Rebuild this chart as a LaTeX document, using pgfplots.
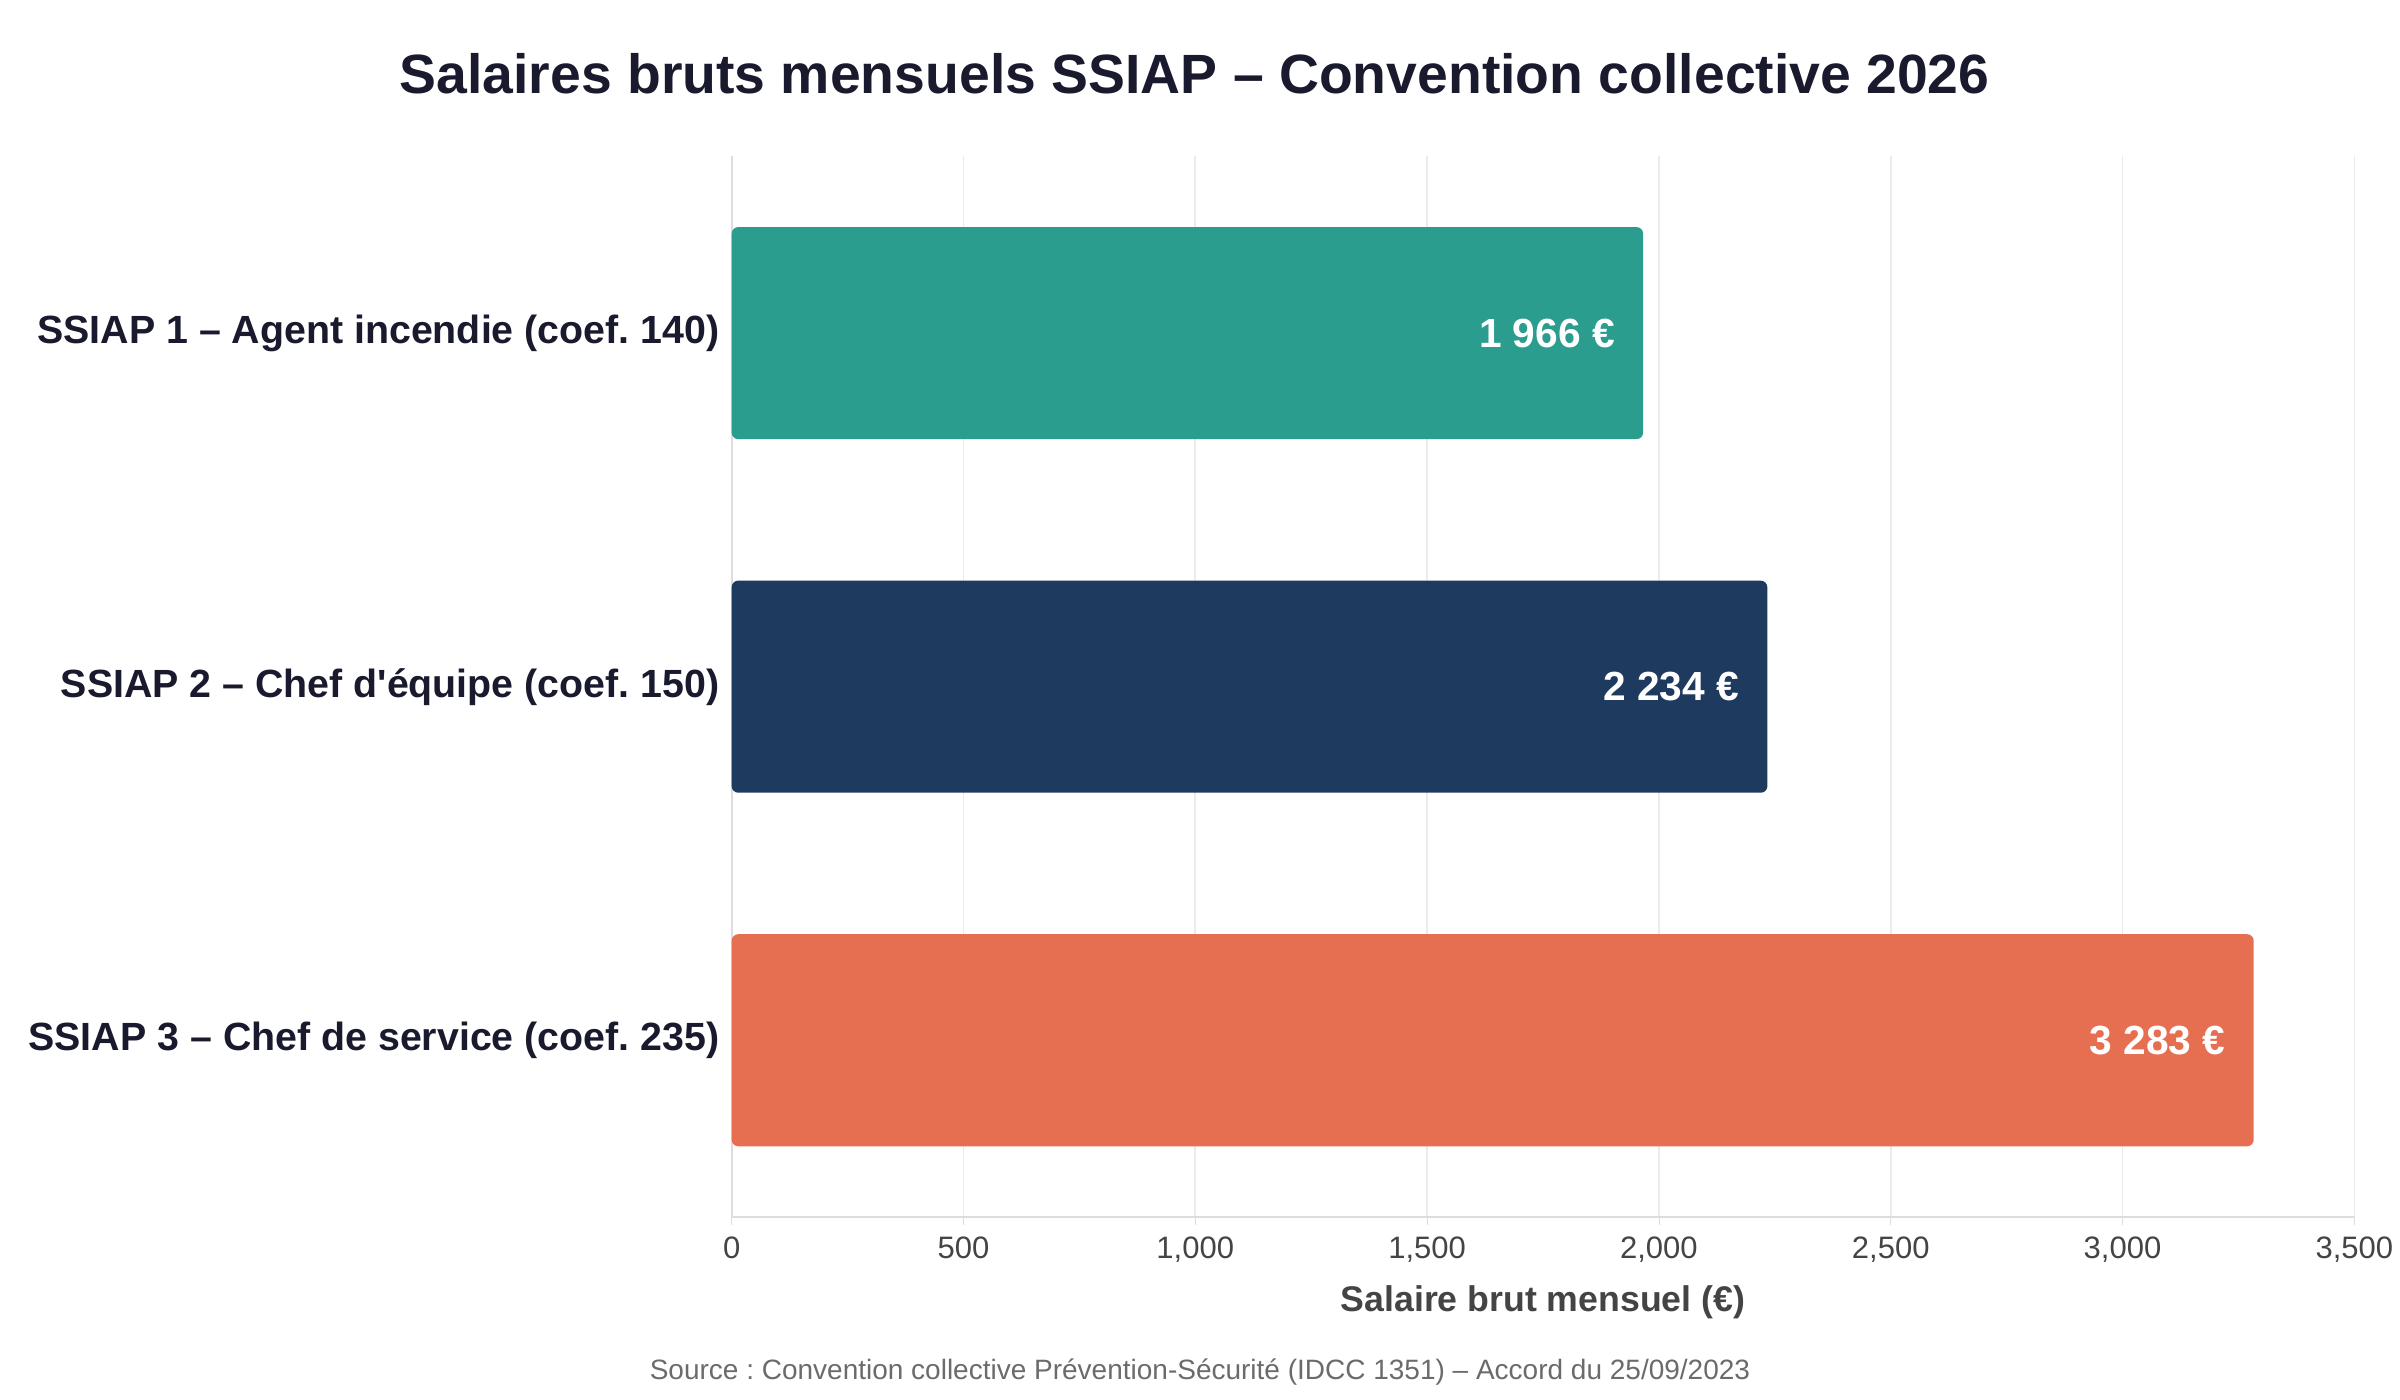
\documentclass[border=0pt]{standalone}
\usepackage{fontspec}
\setmainfont{Liberation Sans}
\usepackage{pgfplots}
\pgfplotsset{compat=1.18}
\frenchspacing

\definecolor{barTeal}{HTML}{2A9D8F}
\definecolor{barNavy}{HTML}{1F3A5F}
\definecolor{barCoral}{HTML}{E76F51}
\definecolor{titleInk}{HTML}{1A1A2E}
\definecolor{tickInk}{HTML}{444444}
\definecolor{srcInk}{HTML}{6B6B6B}
\definecolor{gridGray}{HTML}{EBEBEB}
\definecolor{axisGray}{HTML}{DDDDDD}

\begin{document}
\begin{tikzpicture}
\begin{axis}[
  scale only axis,
  width=486.8pt, height=318.2pt,
  xmin=0, xmax=3500, ymin=-0.5, ymax=2.5,
  enlargelimits=false,
  y dir=reverse,
  xbar, bar width=0.6, bar shift=0pt,
  axis lines*=left,
  axis line style={draw=axisGray, line width=0.6pt},
  xmajorgrids,
  grid style={draw=gridGray, line width=0.5pt},
  xtick={0,500,...,3500},
  tick align=outside,
  major tick length=2.5pt,
  xtick style={draw=axisGray},
  ytick={0,1,2},
  ytick style={draw=none},
  yticklabels={{SSIAP 1 – Agent incendie (coef. 140)},
               {SSIAP 2 – Chef d\textquotesingle équipe (coef. 150)},
               {SSIAP 3 – Chef de service (coef. 235)}},
  yticklabel style={font=\bfseries\fontsize{11.8}{14}\selectfont, text=titleInk,
                    anchor=east, inner sep=0pt, xshift=-1pt},
  xticklabel style={font=\fontsize{9.3}{11}\selectfont, text=tickInk},
  /pgf/number format/assume math mode=true,
  /pgf/number format/1000 sep={,},
  scaled x ticks=false,
  xlabel={Salaire brut mensuel (€)},
  xlabel style={font=\bfseries\fontsize{10.7}{13}\selectfont, text=tickInk},
  point meta=explicit symbolic,
  nodes near coords,
  every node near coord/.append style={anchor=east, xshift=-5pt,
      font=\bfseries\fontsize{12.2}{14}\selectfont, text=white},
]
\addplot[fill=barTeal, draw=none, rounded corners=2pt] coordinates {(1966,0) [1 966 €]};
\addplot[fill=barNavy, draw=none, rounded corners=2pt] coordinates {(2234,1) [2 234 €]};
\addplot[fill=barCoral, draw=none, rounded corners=2pt] coordinates {(3283,2) [3 283 €]};
\end{axis}
\node[font=\bfseries\fontsize{16.6}{20}\selectfont, text=titleInk]
  at (138.9pt,343.0pt) {Salaires bruts mensuels SSIAP – Convention collective 2026};
\node[font=\fontsize{8.4}{10}\selectfont, text=srcInk]
  at (140.5pt,-46.4pt) {Source : Convention collective Prévention-Sécurité (IDCC 1351) – Accord du 25/09/2023};
\pgfresetboundingbox
\path[use as bounding box] (-219.5pt,-54.9pt) rectangle (500.5pt,365.1pt);
\end{tikzpicture}
\end{document}
